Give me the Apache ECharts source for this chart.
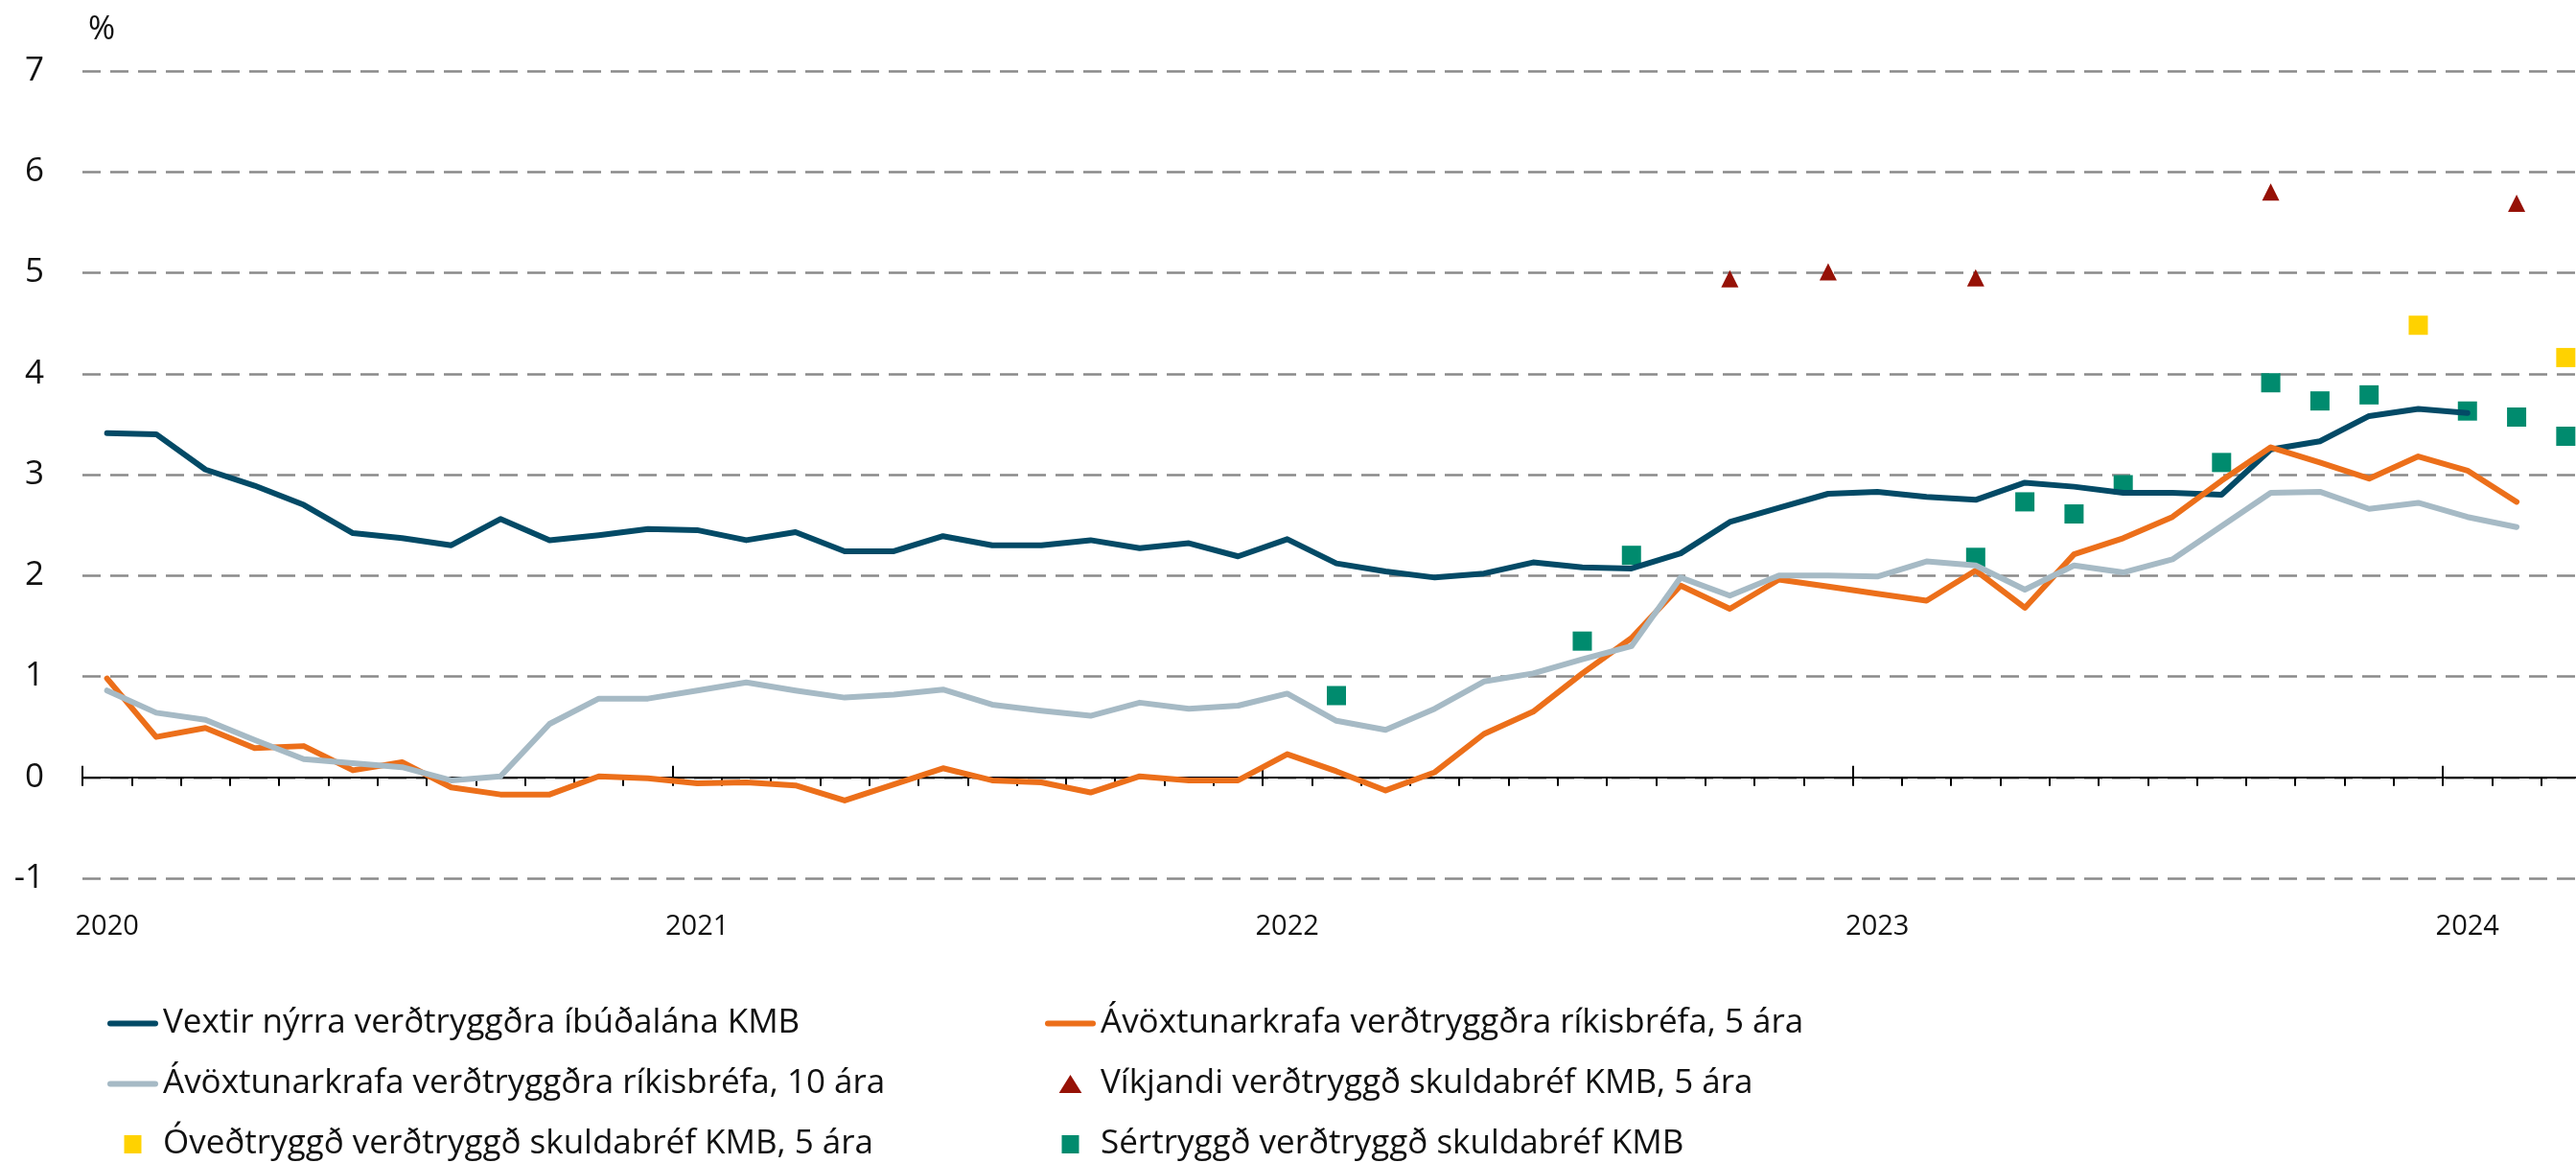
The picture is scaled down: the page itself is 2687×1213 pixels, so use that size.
<!DOCTYPE html>
<html>
<head>
<meta charset="utf-8">
<script src="https://cdn.jsdelivr.net/npm/echarts@6/dist/echarts.min.js"></script>
<style>
  html, body { margin: 0; padding: 0; background: #fff; }
  #chart { width: 2687px; height: 1213px; }
</style>
</head>
<body>
<div id="chart"></div>
<script>
// ─── Data ─────────────────────────────────────────────────────────────────

const months = [
  '2020-01', '2020-02', '2020-03', '2020-04', '2020-05', '2020-06', '2020-07', '2020-08', '2020-09', '2020-10', '2020-11', '2020-12',
  '2021-01', '2021-02', '2021-03', '2021-04', '2021-05', '2021-06', '2021-07', '2021-08', '2021-09', '2021-10', '2021-11', '2021-12',
  '2022-01', '2022-02', '2022-03', '2022-04', '2022-05', '2022-06', '2022-07', '2022-08', '2022-09', '2022-10', '2022-11', '2022-12',
  '2023-01', '2023-02', '2023-03', '2023-04', '2023-05', '2023-06', '2023-07', '2023-08', '2023-09', '2023-10', '2023-11', '2023-12',
  '2024-01', '2024-02', '2024-03'
];

// Vextir nýrra verðtryggðra íbúðalána KMB
const vextir = [
  3.41, 3.40, 3.05, 2.89, 2.70, 2.42, 2.37, 2.30, 2.56, 2.35, 2.40, 2.46,
  2.45, 2.35, 2.43, 2.24, 2.24, 2.39, 2.30, 2.30, 2.35, 2.27, 2.32, 2.19,
  2.36, 2.12, 2.04, 1.98, 2.02, 2.13, 2.08, 2.07, 2.22, 2.53, 2.67, 2.81,
  2.83, 2.78, 2.75, 2.92, 2.88, 2.82, 2.82, 2.80, 3.25, 3.33, 3.58, 3.65,
  3.61, null, null
];

// Ávöxtunarkrafa verðtryggðra ríkisbréfa, 5 ára
const rikis5 = [
  0.98, 0.40, 0.49, 0.29, 0.31, 0.07, 0.15, -0.10, -0.17, -0.17, 0.01, -0.01,
  -0.06, -0.05, -0.08, -0.23, -0.07, 0.09, -0.03, -0.05, -0.15, 0.01, -0.03, -0.03,
  0.23, 0.06, -0.13, 0.05, 0.43, 0.65, 1.03, 1.38, 1.90, 1.67, 1.96, 1.89,
  1.82, 1.75, 2.05, 1.68, 2.21, 2.37, 2.58, 2.94, 3.27, 3.12, 2.96, 3.18,
  3.04, 2.73, null
];

// Ávöxtunarkrafa verðtryggðra ríkisbréfa, 10 ára
const rikis10 = [
  0.86, 0.64, 0.57, 0.37, 0.18, 0.14, 0.10, -0.03, 0.01, 0.53, 0.78, 0.78,
  0.86, 0.94, 0.86, 0.79, 0.82, 0.87, 0.72, 0.66, 0.61, 0.74, 0.68, 0.71,
  0.83, 0.56, 0.47, 0.68, 0.95, 1.03, 1.17, 1.30, 1.98, 1.80, 2.00, 2.00,
  1.99, 2.14, 2.10, 1.86, 2.10, 2.03, 2.16, 2.49, 2.82, 2.83, 2.66, 2.72,
  2.58, 2.48, null
];

// Víkjandi verðtryggð skuldabréf KMB, 5 ára
const vikjandi = [
  ['2022-10', 4.94], ['2022-12', 5.01], ['2023-03', 4.95], ['2023-09', 5.80], ['2024-02', 5.69]
];

// Óveðtryggð verðtryggð skuldabréf KMB, 5 ára
const oveðtryggd = [
  ['2023-12', 4.48], ['2024-03', 4.16]
];

// Sértryggð verðtryggð skuldabréf KMB
const sertryggd = [
  ['2022-02', 0.81], ['2022-07', 1.35], ['2022-08', 2.20], ['2023-03', 2.18], ['2023-04', 2.73],
  ['2023-05', 2.61], ['2023-06', 2.90], ['2023-08', 3.12], ['2023-09', 3.91], ['2023-10', 3.73],
  ['2023-11', 3.79], ['2024-01', 3.63], ['2024-02', 3.57], ['2024-03', 3.38]
];

const names = [
  'Vextir nýrra verðtryggðra íbúðalána KMB',
  'Ávöxtunarkrafa verðtryggðra ríkisbréfa, 5 ára',
  'Ávöxtunarkrafa verðtryggðra ríkisbréfa, 10 ára',
  'Víkjandi verðtryggð skuldabréf KMB, 5 ára',
  'Óveðtryggð verðtryggð skuldabréf KMB, 5 ára',
  'Sértryggð verðtryggð skuldabréf KMB'
];

// ─── Styling ──────────────────────────────────────────────────────────────

const FONT = '"Open Sans", "Noto Sans", sans-serif';
const TEXT = '#111';
// legend icons as paths so they keep their own proportions inside the 53x19 box
const LINE_ICON = 'path://M3,0 L50,0 A3,3 0 0 1 50,6 L3,6 A3,3 0 0 1 3,0 Z';
const SQUARE_ICON = 'path://M0,0 L18,0 L18,19 L0,19 Z';
const TRIANGLE_ICON = 'path://M10,0 L20,16 L0,16 Z';
const isJanuary = (idx) => idx % 12 === 0;

function lineSeries(name, data, color) {
  return {
    name, type: 'line', data,
    showSymbol: false, symbol: 'none',
    lineStyle: { color, width: 6, cap: 'round', join: 'round' },
    itemStyle: { color },
    emphasis: { disabled: true },
  };
}

function scatterSeries(name, data, color, symbol, size) {
  return {
    name, type: 'scatter', data,
    symbol, symbolSize: size,
    itemStyle: { color, opacity: 1 },
    emphasis: { disabled: true },
  };
}

const legendBase = {
  orient: 'vertical',
  top: 1050,
  itemWidth: 53,
  itemHeight: 19,
  itemGap: 28,
  padding: 0,
  selectedMode: false,
  symbolKeepAspect: true,
  textStyle: { fontFamily: FONT, fontSize: 35, color: TEXT },
};

// ─── Chart ────────────────────────────────────────────────────────────────

const chart = echarts.init(document.getElementById('chart'));

chart.setOption({
  animation: false,
  backgroundColor: '#fff',
  grid: { left: 86, top: 74, width: 2616, height: 842, outerBoundsMode: 'none', containLabel: false },
  legend: [
    {
      ...legendBase, left: 112,
      data: [
        { name: names[0], icon: LINE_ICON },
        { name: names[2], icon: LINE_ICON },
        { name: names[4], icon: SQUARE_ICON },
      ],
    },
    {
      ...legendBase, left: 1090,
      data: [
        { name: names[1], icon: LINE_ICON },
        { name: names[3], icon: TRIANGLE_ICON },
        { name: names[5], icon: SQUARE_ICON },
      ],
    },
  ],
  xAxis: [
    {
      type: 'category',
      data: months,
      position: 'bottom',
      boundaryGap: true,
      axisLine: { onZero: true, onZeroAxisIndex: 0, lineStyle: { color: '#000', width: 2 } },
      axisTick: { show: true, interval: 0, length: 9, lineStyle: { color: '#000', width: 2 } },
      axisLabel: {
        interval: isJanuary,
        formatter: (v) => v.slice(0, 4),
        margin: 36,
        fontFamily: FONT, fontSize: 29, color: TEXT,
      },
      splitLine: { show: false },
    },
    {
      // year ticks rising above the zero line
      type: 'category',
      data: months,
      position: 'top',
      boundaryGap: true,
      axisLine: { show: true, onZero: true, onZeroAxisIndex: 1, lineStyle: { color: '#000', width: 2 } },
      axisTick: { show: true, interval: isJanuary, length: 12, lineStyle: { color: '#000', width: 2 } },
      axisLabel: { show: false },
      splitLine: { show: false },
    },
  ],
  yAxis: [
    {
      type: 'value',
      min: -1, max: 7, interval: 1,
      name: '%',
      nameLocation: 'end',
      nameGap: 26,
      nameTextStyle: { fontFamily: FONT, fontSize: 34, color: TEXT, align: 'left', padding: [0, 0, 0, 6] },
      axisLine: { show: false },
      axisTick: { show: false },
      axisLabel: { margin: 40, fontFamily: FONT, fontSize: 35, color: TEXT },
      splitLine: { lineStyle: { color: '#8a8a8a', width: 2.5, type: [19, 10] } },
    },
    {
      // twin of the first, only carries the second x axis on zero
      type: 'value',
      min: -1, max: 7, interval: 1,
      show: false,
      splitLine: { show: false },
    },
  ],
  series: [
    lineSeries(names[0], vextir, '#034a66'),
    lineSeries(names[1], rikis5, '#ec6f1a'),
    lineSeries(names[2], rikis10, '#a6bac5'),
    scatterSeries(names[3], vikjandi, '#961106', 'triangle', 18),
    scatterSeries(names[4], oveðtryggd, '#ffd200', 'rect', 20),
    scatterSeries(names[5], sertryggd, '#008b6e', 'rect', 20),
  ],
});
</script>
</body>
</html>
